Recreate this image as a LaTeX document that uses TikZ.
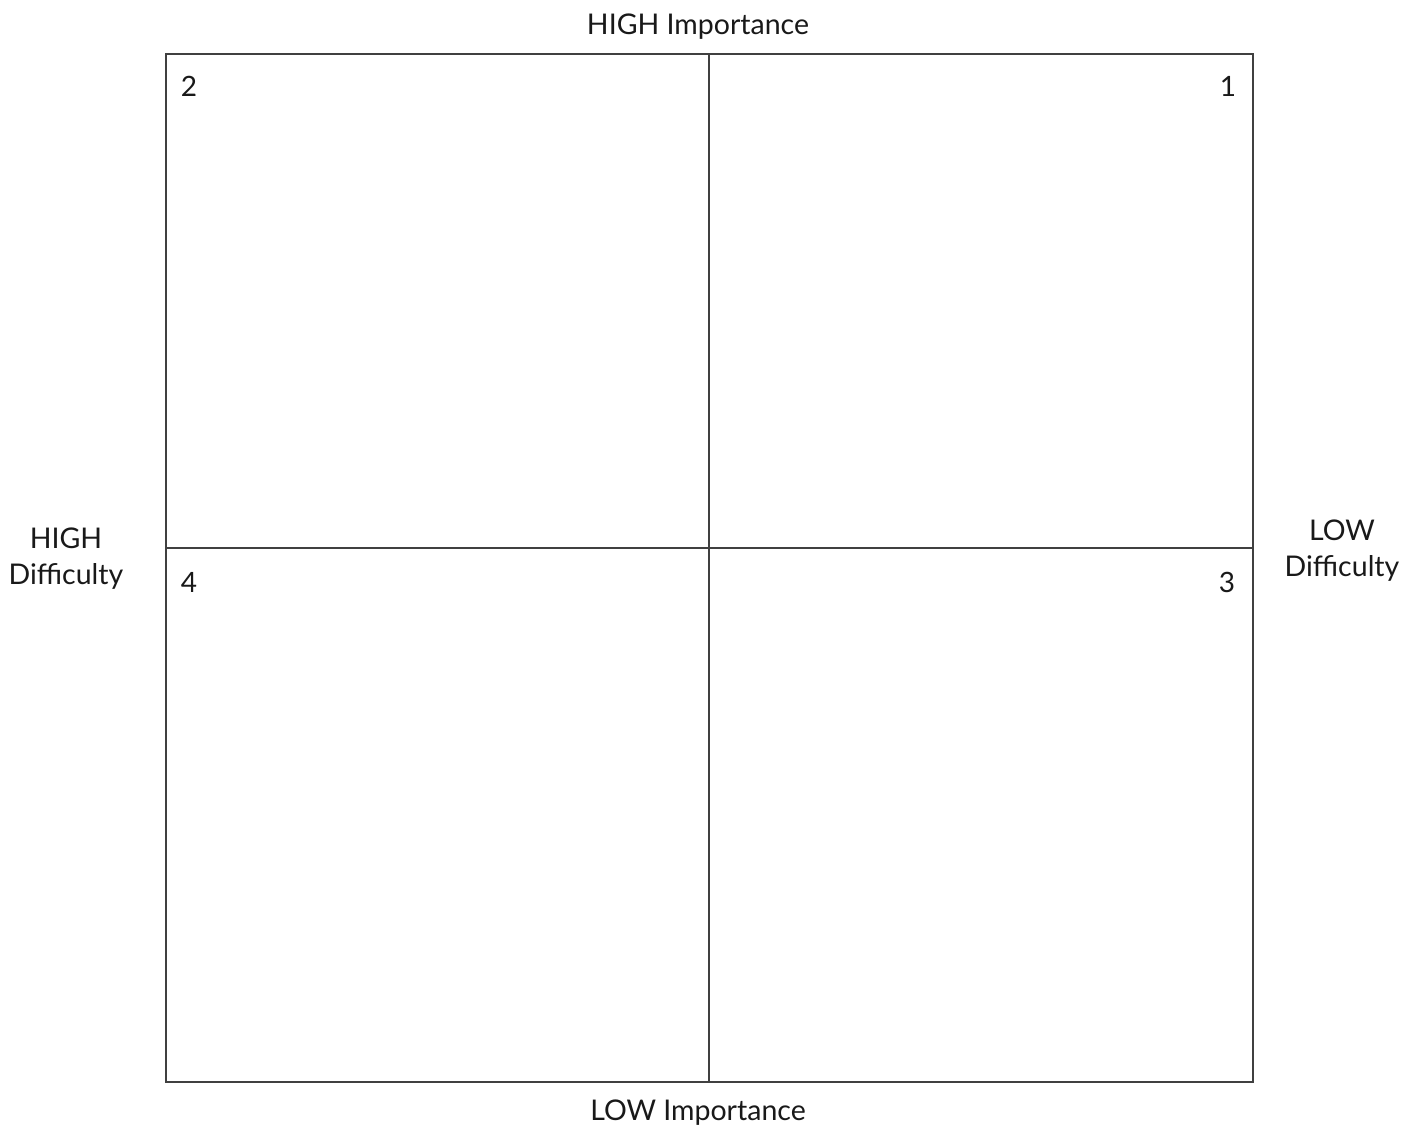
\documentclass[tikz,border=0pt]{standalone}
\usepackage{fontspec}
\setmainfont{Lato}
\begin{document}
\begin{tikzpicture}[x=1pt,y=-1pt,
  frame/.style={draw=black!75,line width=1.8pt},
  lbl/.style={font=\fontsize{28.5}{36}\selectfont,text=black!90,inner sep=0pt,align=center},
  num/.style={font=\fontsize{28}{36}\selectfont,text=black!90,inner sep=0pt,anchor=base}]
\useasboundingbox[fill=white] (0,0) rectangle (1416,1127);
\coordinate (tl) at (166,54);
\coordinate (tr) at (1253,54);
\coordinate (bl) at (166,1082);
\coordinate (br) at (1253,1082);
\coordinate (tm) at (709,54);
\coordinate (bm) at (709,1082);
\coordinate (lm) at (166,548);
\coordinate (rm) at (1253,548);
\draw[frame] (tl) rectangle (br);
\draw[frame] (tm) -- (bm);
\draw[frame] (lm) -- (rm);
\node[lbl,anchor=base] (hi) at (698,34) {HIGH Importance};
\node[lbl,anchor=base] (lo) at (698,1120) {LOW Importance};
\node[lbl,anchor=base] (hd) at (66,584) {HIGH\\Difficulty};
\node[lbl,anchor=base] (ld) at (1342,576) {LOW\\Difficulty};
\node[num] (n2) at (189,96) {2};
\node[num] (n1) at (1228,96) {1};
\node[num] (n4) at (189,592) {4};
\node[num] (n3) at (1227,592) {3};
\end{tikzpicture}
\end{document}
